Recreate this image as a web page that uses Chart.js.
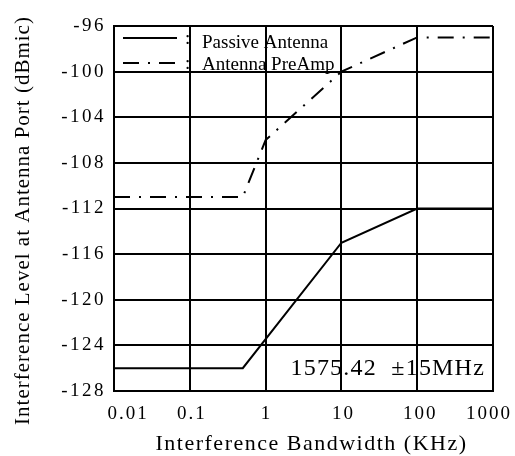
<!DOCTYPE html>
<html><head><meta charset="utf-8">
<script src="https://cdn.jsdelivr.net/npm/chart.js@4/dist/chart.umd.min.js"></script>
<style>html,body{margin:0;padding:0;background:#fff}</style>
</head><body>
<canvas id="c" width="515" height="456"></canvas>
<script>
// ---- data ----
const passiveX = [0.01, 0.5, 10, 100, 1000];
const passiveY = [-126, -126, -115, -112, -112];
const preampX = [0.01, 0.5, 1, 10, 100, 1000];
const preampY = [-111, -111, -106, -100, -97, -97];
const xTickValues = [0.01, 0.1, 1, 10, 100, 1000];
const xTickLabels = ['0.01', '0.1', '1', '10', '100', '1000'];
const seriesNames = ['Passive', 'Antenna', 'Antenna', 'PreAmp'];
const annotationText = '1575.42  \u00B115MHz';
const xTitle = 'Interference Bandwidth (KHz)';
const yTitle = 'Interference Level at Antenna Port (dBmic)';

const FONT = "'Liberation Serif', 'Times New Roman', serif";
const xLabelShift = [13, 1, 0, 1, 2, -5];

const toPts = (xs, ys) => xs.map((x, i) => ({x, y: ys[i]}));

const textPlugin = {
  id: 'texts',
  beforeUpdate(chart) { chart.ctx.letterSpacing = '2.5px'; },
  beforeDraw(chart) { chart.ctx.letterSpacing = '2.5px'; },
  afterDatasetsDraw(chart) {
    const ctx = chart.ctx;
    const xs = chart.scales.x, ys = chart.scales.y;
    ctx.save();
    ctx.fillStyle = '#000';
    ctx.strokeStyle = '#000';
    // x tick labels
    ctx.font = '19px ' + FONT;
    ctx.letterSpacing = '2px';
    ctx.textAlign = 'center';
    ctx.textBaseline = 'middle';
    xTickValues.forEach((v, i) => {
      ctx.fillText(xTickLabels[i], xs.getPixelForValue(v) + xLabelShift[i] + 1, ys.bottom + 23);
    });
    // x title
    ctx.font = '22px ' + FONT;
    ctx.letterSpacing = '1.5px';
    ctx.fillText(xTitle, (xs.left + xs.right) / 2 + 8, ys.bottom + 53);
    // y title
    ctx.save();
    ctx.font = '21px ' + FONT;
    ctx.letterSpacing = '1px';
    ctx.translate(23, (ys.top + ys.bottom) / 2 + 12);
    ctx.rotate(-Math.PI / 2);
    ctx.fillText(yTitle, 0, 0);
    ctx.restore();
    // legend
    const lx0 = xs.left + 9, lx1 = xs.left + 63;
    const rows = [ys.top + 12, ys.top + 37];
    chart.data.datasets.forEach((ds, i) => {
      ctx.save();
      ctx.lineWidth = 2;
      ctx.setLineDash(ds.borderDash || []);
      ctx.beginPath();
      ctx.moveTo(lx0, rows[i]); ctx.lineTo(lx1, rows[i]);
      ctx.stroke();
      ctx.restore();
    });
    ctx.letterSpacing = '0px';
    ctx.textAlign = 'left';
    ctx.font = '19px ' + FONT;
    rows.forEach((y, i) => ctx.fillText(':', xs.left + 71, y + 1));
    ctx.fillText(seriesNames[0] + ' ' + seriesNames[1], xs.left + 88, ys.top + 17);
    ctx.fillText(seriesNames[2] + ' ' + seriesNames[3], xs.left + 88, ys.top + 39);
    // annotation
    ctx.font = '24px ' + FONT;
    ctx.letterSpacing = '1.2px';
    ctx.textAlign = 'right';
    ctx.fillText(annotationText, xs.right - 8, ys.getPixelForValue(-126) + 1);
    ctx.restore();
  }
};

const gridOpts = {color: '#000', lineWidth: 2, drawTicks: false};

new Chart(document.getElementById('c'), {
  type: 'line',
  data: {
    datasets: [
      {label: 'Passive Antenna', data: toPts(passiveX, passiveY), borderColor: '#000', borderWidth: 2, pointRadius: 0, tension: 0, fill: false},
      {label: 'Antenna PreAmp', data: toPts(preampX, preampY), borderColor: '#000', borderWidth: 2, borderDash: [16, 9, 2, 9], pointRadius: 0, tension: 0, fill: false}
    ]
  },
  options: {
    responsive: false,
    animation: false,
    devicePixelRatio: 1,
    layout: {padding: {top: 26, right: 22, left: 0, bottom: 0}},
    plugins: {legend: {display: false}, tooltip: {enabled: false}},
    scales: {
      x: {
        type: 'logarithmic', min: 0.01, max: 1000,
        afterBuildTicks: s => { s.ticks = xTickValues.map(v => ({value: v})); },
        ticks: {display: false},
        grid: gridOpts,
        border: {display: true, color: '#000', width: 2},
        title: {display: false},
        afterFit: s => { s.height = 65; }
      },
      y: {
        min: -128, max: -96,
        ticks: {stepSize: 4, color: '#000', font: {family: FONT, size: 19}, padding: 8},
        grid: gridOpts,
        border: {display: true, color: '#000', width: 2},
        title: {display: false},
        afterFit: s => { s.width = 114; }
      }
    }
  },
  plugins: [textPlugin]
});
</script>
</body></html>
